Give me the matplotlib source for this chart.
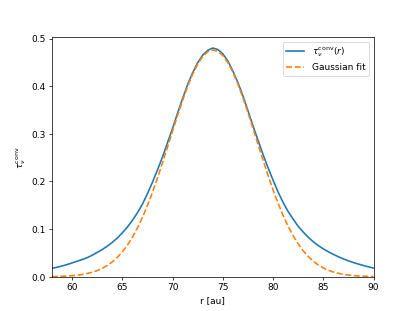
import numpy as np
import matplotlib
matplotlib.use('Agg')
import matplotlib.pyplot as plt

# radius grid [au]
r = np.arange(58, 90.25, 0.5)

# convolved optical depth profile
tau_conv = [0.0175, 0.020, 0.0225, 0.0255, 0.029, 0.0325, 0.036, 0.040,
            0.045, 0.051, 0.057, 0.064, 0.072, 0.081, 0.092, 0.104,
            0.118, 0.134, 0.152, 0.174, 0.198, 0.224, 0.251, 0.281,
            0.311, 0.343, 0.374, 0.403, 0.428, 0.449, 0.465, 0.475,
            0.480, 0.477, 0.468, 0.453, 0.432, 0.408, 0.380, 0.349,
            0.317, 0.287, 0.257, 0.229, 0.203, 0.178, 0.156, 0.137,
            0.121, 0.106, 0.094, 0.083, 0.0735, 0.0655, 0.0585, 0.0525,
            0.047, 0.042, 0.0375, 0.0335, 0.0298, 0.0266, 0.0236, 0.0208,
            0.0183]

# gaussian fit to it
tau_fit = [0.0004, 0.0007, 0.0010, 0.0016, 0.0023, 0.0033, 0.0048, 0.0067,
           0.0094, 0.0129, 0.0175, 0.0235, 0.0310, 0.0404, 0.0520, 0.0659,
           0.0825, 0.1019, 0.1241, 0.1492, 0.1769, 0.2070, 0.2389, 0.2719,
           0.3055, 0.3386, 0.3701, 0.3993, 0.4249, 0.4461, 0.4621, 0.4722,
           0.476, 0.4734, 0.4645, 0.4497, 0.4295, 0.4047, 0.3762, 0.3451,
           0.3122, 0.2787, 0.2454, 0.2132, 0.1827, 0.1546, 0.1289, 0.1061,
           0.0862, 0.0691, 0.0546, 0.0425, 0.0327, 0.0248, 0.0186, 0.0137,
           0.0100, 0.0072, 0.0051, 0.0036, 0.0025, 0.0017, 0.0011, 0.0007,
           0.0005]

fig, ax = plt.subplots(figsize=(6.4, 4.8), dpi=64.85)
ax.plot(r, tau_conv, lw=1.8, label=r'$\tau_\nu^{\rm conv}(r)$')
ax.plot(r, tau_fit, '--', lw=1.8, label='Gaussian fit')
ax.set_xlim(58, 90)
ax.set_ylim(0, 0.503)
ax.set_xlabel('r [au]')
ax.set_ylabel(r'$\tau_\nu^{\rm conv}$')
ax.legend()

fig.savefig('out.png')
